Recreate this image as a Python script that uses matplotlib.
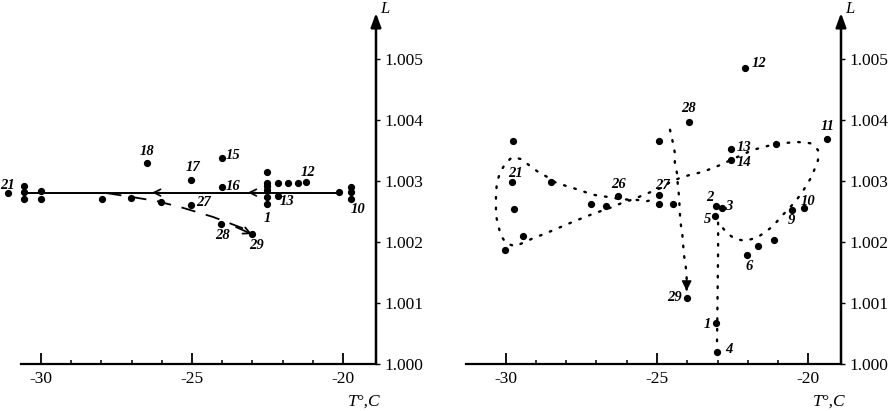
import matplotlib.pyplot as plt
import numpy as np

plt.rcParams['font.family'] = ['Liberation Serif', 'DejaVu Serif']
plt.rcParams['axes.unicode_minus'] = False

# ---- left panel: T (deg C) and L values ----
left_T = [-31.09, -30.56, -30.56, -30.56, -30.00, -30.00, -27.98, -27.02, -26.03, -25.03,
          -24.04, -23.02, -26.49, -25.03, -24.01, -24.01,
          -22.52, -22.52, -22.52, -22.52, -22.52, -22.52,
          -22.15, -21.82, -21.49, -21.23, -22.15, -20.13, -19.74, -19.74, -19.74]
left_L = [1.00280, 1.00292, 1.00282, 1.00270, 1.00284, 1.00270, 1.00270, 1.00272, 1.00266, 1.00261,
          1.00230, 1.00213, 1.00330, 1.00302, 1.00338, 1.00290,
          1.00315, 1.00296, 1.00291, 1.00285, 1.00274, 1.00262,
          1.00297, 1.00297, 1.00297, 1.00298, 1.00275, 1.00282, 1.00290, 1.00282, 1.00270]

left_labels = ['21', '18', '17', '15', '16', '12', '13', '1', '10', '27', '28', '29']
left_label_T = [-31.09, -26.49, -25.03, -24.01, -24.01, -21.23, -22.15, -22.52, -19.74, -25.03, -24.04, -23.02]
left_label_L = [1.00280, 1.00330, 1.00302, 1.00338, 1.00290, 1.00298, 1.00275, 1.00262, 1.00270, 1.00261,
                1.00230, 1.00213]

# mean level (solid line) and the drift (dashed line)
level_T = [-30.56, -20.13]
level_L = [1.00281, 1.00281]
level_arrow_T = [-23.15, -26.32]
drift_T = [-27.81, -27.02, -26.16, -25.30, -24.30, -23.02]
drift_L = [1.00280, 1.00274, 1.00267, 1.00256, 1.00241, 1.00213]

# ---- right panel ----
right_T = [-29.77, -29.80, -29.72, -29.42, -30.02, -28.50, -27.19, -26.70, -26.30, -24.93,
           -24.93, -24.93, -24.46, -23.95, -22.08, -22.56, -22.56, -21.08, -19.39, -23.06,
           -22.86, -23.07, -22.01, -21.65, -21.13, -20.55, -20.13, -24.00, -23.06, -23.03]
right_L = [1.00366, 1.00298, 1.00254, 1.00210, 1.00187, 1.00298, 1.00263, 1.00259, 1.00275, 1.00277,
           1.00366, 1.00263, 1.00263, 1.00396, 1.00486, 1.00352, 1.00334, 1.00360, 1.00369, 1.00259,
           1.00256, 1.00243, 1.00178, 1.00193, 1.00204, 1.00252, 1.00255, 1.00109, 1.00067, 1.00019]

right_labels = ['12', '28', '11', '13', '14', '21', '26', '27', '2', '3', '5', '10', '9', '6', '29', '1', '4']
right_label_T = [-22.08, -23.95, -19.39, -22.56, -22.56, -29.80, -26.30, -24.93, -23.06, -22.86, -23.07,
                 -20.13, -20.55, -22.01, -24.00, -23.06, -23.03]
right_label_L = [1.00486, 1.00396, 1.00369, 1.00352, 1.00334, 1.00298, 1.00275, 1.00277, 1.00259, 1.00256,
                 1.00243, 1.00255, 1.00252, 1.00178, 1.00109, 1.00067, 1.00019]

# dotted loop (starts at point 4 and winds round both lobes)
loop_T = [-23.02, -23.00, -22.98, -22.98, -22.70, -22.42, -22.09, -21.70, -21.43, -21.17, -20.94,
          -20.70, -20.47, -20.22, -19.89, -19.68, -19.68, -19.94, -20.37, -21.07, -21.83, -22.36,
          -22.92, -23.48, -23.91, -24.24, -24.57, -24.80, -25.30, -25.79, -26.16, -26.49, -26.78,
          -27.12, -27.48, -27.78, -28.11, -28.40, -28.73, -29.06, -29.36, -29.69, -29.99, -30.16,
          -30.25, -30.32, -30.32, -30.32, -30.29, -30.19, -30.02, -29.79, -29.49, -29.23, -28.93,
          -28.64, -28.37, -28.01, -27.68, -27.38, -27.05, -26.65, -26.16, -25.66, -25.33, -25.07]
loop_L = [1.00020, 1.00105, 1.00187, 1.00233, 1.00215, 1.00205, 1.00202, 1.00207, 1.00216, 1.00226,
          1.00239, 1.00252, 1.00264, 1.00280, 1.00307, 1.00334, 1.00351, 1.00362, 1.00364, 1.00361,
          1.00351, 1.00339, 1.00326, 1.00315, 1.00310, 1.00305, 1.00298, 1.00290, 1.00280, 1.00270,
          1.00264, 1.00257, 1.00252, 1.00246, 1.00239, 1.00233, 1.00226, 1.00220, 1.00213, 1.00207,
          1.00200, 1.00193, 1.00198, 1.00211, 1.00228, 1.00244, 1.00261, 1.00277, 1.00297, 1.00313,
          1.00328, 1.00339, 1.00336, 1.00326, 1.00315, 1.00307, 1.00298, 1.00292, 1.00287, 1.00282,
          1.00277, 1.00274, 1.00270, 1.00269, 1.00267, 1.00270]

# dotted descent towards point 29
fall_T = [-24.57, -24.47, -24.41, -24.41, -24.34, -24.31, -24.27, -24.24, -24.21, -24.16, -24.13,
          -24.10, -24.05, -24.02, -24.02]
fall_L = [1.00384, 1.00362, 1.00346, 1.00330, 1.00313, 1.00293, 1.00274, 1.00244, 1.00228, 1.00211,
          1.00192, 1.00176, 1.00160, 1.00143, 1.00120]

L_ticks = [1.000, 1.001, 1.002, 1.003, 1.004, 1.005]
T_major = [-30, -25, -20]
T_minor = np.arange(-29, -20)

# label offsets in pixels (dx, dy)
left_offsets = [(0, 8), (0, 11), (2, 12), (11, 2), (11, 1), (2, 10), (9, -5), (0, -14), (7, -10),
                (12, 2), (2, -12), (5, -11)]
right_offsets = [(14, 4), (0, 14), (1, 12), (13, 2), (13, -2), (4, 9), (1, 12), (3, 10), (-6, 9),
                 (7, 1), (-8, -4), (4, 7), (0, -10), (2, -11), (-13, 0), (-8, -1), (12, 3)]


def setup_axes(ax, xlim):
    ax.set_xlim(*xlim)
    ax.set_ylim(1.0, 1.005754)
    for s in ['top', 'left', 'right']:
        ax.spines[s].set_visible(False)
    ax.spines['bottom'].set_linewidth(1.6)
    ax.set_xticks(T_major)
    ax.set_xticks(T_minor, minor=True)
    ax.set_xticklabels([str(t) for t in T_major])
    ax.tick_params(axis='x', which='major', direction='in', length=8, width=1.3, pad=5, labelsize=12.5)
    ax.tick_params(axis='x', which='minor', direction='in', length=3, width=1.1)
    ax.set_yticks(L_ticks)
    ax.set_yticklabels(['%.3f' % v for v in L_ticks])
    ax.tick_params(axis='y', direction='out', length=3, width=1.0, pad=3, labelsize=12.5,
                   left=False, labelleft=False, right=True, labelright=True)
    # vertical axis with arrow
    ax.annotate('', xy=(1, 1), xytext=(1, 0), xycoords='axes fraction',
                arrowprops=dict(arrowstyle='-|>,head_length=0.6,head_width=0.22', lw=1.8,
                                color='black', mutation_scale=14, shrinkA=0, shrinkB=0))
    ax.annotate('L', xy=(1, 1), xycoords='axes fraction', xytext=(9, 4), textcoords='offset pixels',
                ha='center', va='center', fontsize=12, fontstyle='italic')
    ax.annotate('T°,C', xy=(1, 0), xycoords='axes fraction', xytext=(4, -38),
                textcoords='offset pixels', ha='right', va='center', fontsize=12.5, fontstyle='italic')


def put_labels(ax, labels, xs, ys, offsets):
    for lab, x, y, (dx, dy) in zip(labels, xs, ys, offsets):
        ax.annotate(lab, xy=(x, y), xytext=(dx, dy), textcoords='offset pixels', ha='center',
                    va='center', fontsize=10.5, fontweight='bold', fontstyle='italic',
                    annotation_clip=False)


fig = plt.figure(figsize=(8.93, 4.11), dpi=100)
W, H = 893, 411
ax1 = fig.add_axes([21 / W, 47 / H, 355 / W, 351 / H])
ax2 = fig.add_axes([466 / W, 47 / H, 375 / W, 351 / H])

# left panel
setup_axes(ax1, (-30.66, -18.91))
ax1.plot(level_T, level_L, color='black', lw=1.4)
for t in level_arrow_T:
    ax1.annotate('', xy=(t, level_L[0]), xytext=(t + 0.25, level_L[0]),
                 arrowprops=dict(arrowstyle='->', lw=1.2, mutation_scale=12, shrinkA=0, shrinkB=0))
ax1.plot(drift_T[:-1] + [drift_T[-1] + 0.1], drift_L[:-1] + [drift_L[-1] + 0.00002],
         color='black', lw=1.3, linestyle=(0, (8, 6)))
ax1.annotate('', xy=(drift_T[-1], drift_L[-1]), xytext=(drift_T[-2], drift_L[-2]),
             arrowprops=dict(arrowstyle='->', lw=1.3, mutation_scale=12, shrinkA=18, shrinkB=0))
ax1.plot(left_T, left_L, 'o', color='black', ms=4.2, clip_on=False)
put_labels(ax1, left_labels, left_label_T, left_label_L, left_offsets)

# right panel
setup_axes(ax2, (-31.31, -18.92))
ax2.plot(loop_T, loop_L, color='black', lw=1.7, linestyle=(0, (0.7, 3.8)), dash_capstyle='round')
ax2.plot(fall_T, fall_L, color='black', lw=1.7, linestyle=(0, (0.7, 3.8)), dash_capstyle='round')
ax2.annotate('', xy=(fall_T[-1], fall_L[-1]), xytext=(fall_T[-1], fall_L[-1] + 0.0002),
             arrowprops=dict(arrowstyle='-|>,head_length=0.5,head_width=0.25', lw=1.0,
                             color='black', mutation_scale=12, shrinkA=0, shrinkB=0))
ax2.plot(right_T, right_L, 'o', color='black', ms=4.2, clip_on=False)
put_labels(ax2, right_labels, right_label_T, right_label_L, right_offsets)

fig.savefig('out.png', dpi=100)
